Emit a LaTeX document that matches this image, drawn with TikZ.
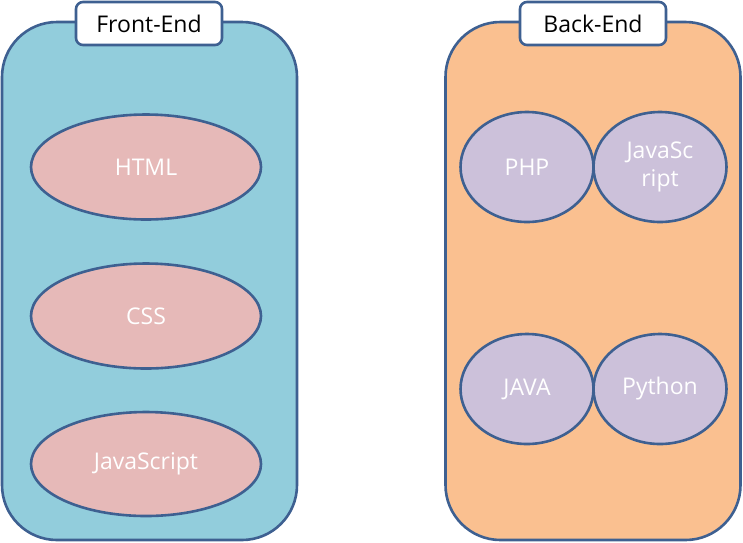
\documentclass[tikz,border=0pt]{standalone}
\usepackage{fontspec}
\setmainfont{Open Sans}
\usetikzlibrary{shapes.geometric}

\definecolor{frame}{RGB}{62,96,145}
\definecolor{front}{RGB}{146,205,220}
\definecolor{back}{RGB}{250,192,144}
\definecolor{pink}{RGB}{230,185,184}
\definecolor{lilac}{RGB}{204,193,218}

\begin{document}
\begin{tikzpicture}[
    x=1pt, y=-1pt,
    every node/.style={draw=frame,line width=2.6pt,inner sep=0pt},
    panel/.style={rectangle,rounded corners=55pt,minimum width=295pt,minimum height=518pt},
    tag/.style={rectangle,rounded corners=7pt,fill=white,minimum width=146pt,minimum height=43pt,font=\fontsize{23}{27}\selectfont},
    lang/.style={ellipse,text=white,align=center,font=\fontsize{23}{28}\selectfont}
]

\useasboundingbox (0,0) rectangle (743,542);

\node[panel,fill=front] (F) at (149.5,281) {};
\node[panel,fill=back] (B) at (593,281) {};

\node[tag] (Ftag) at (149,23.5) {Front-End};
\node[tag] (Btag) at (593,23.5) {Back-End};

\node[lang,fill=pink,minimum width=230pt,minimum height=105pt] (html) at (146,167) {HTML};
\node[lang,fill=pink,minimum width=230pt,minimum height=105pt] (css) at (146,316) {CSS};
\node[lang,fill=pink,minimum width=230pt,minimum height=104pt] (js) at (146,464) {JavaScript};

\node[lang,fill=lilac,minimum width=133pt,minimum height=110pt] (php) at (527,167) {PHP};
\node[lang,fill=lilac,minimum width=133pt,minimum height=110pt] (node) at (660,167) {JavaSc\\ript};
\node[lang,fill=lilac,minimum width=133pt,minimum height=110pt] (java) at (527,389) {JAVA};
\node[lang,fill=lilac,minimum width=133pt,minimum height=110pt] (py) at (660,389) {Python};

\end{tikzpicture}
\end{document}
